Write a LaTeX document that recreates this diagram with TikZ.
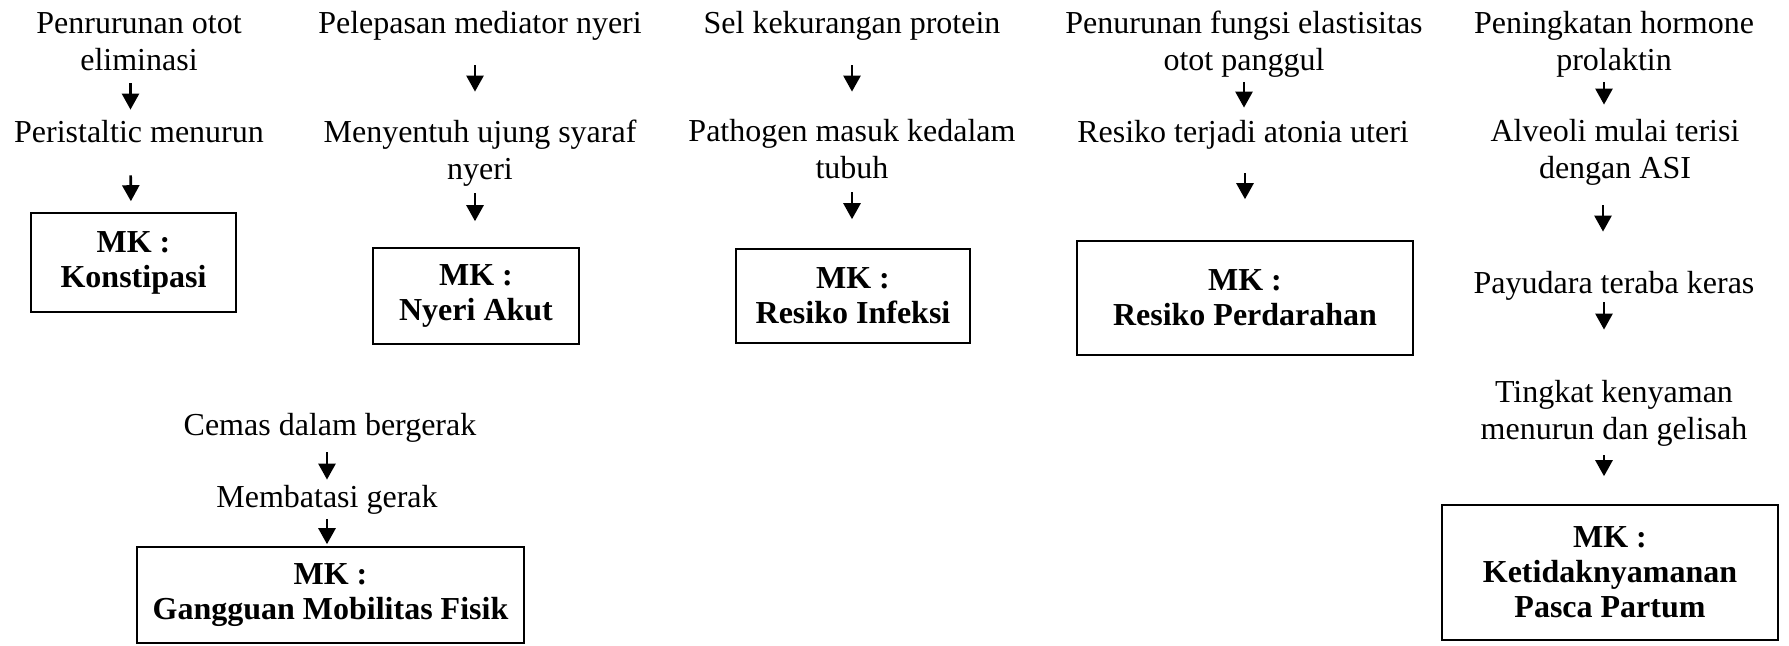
\documentclass[tikz,border=0pt]{standalone}
\usepackage{fontspec}
\setmainfont{Liberation Serif}
\usetikzlibrary{arrows.meta}
\begin{document}
\begin{tikzpicture}[x=0.5pt,y=-0.5pt,
  txt/.style={inner sep=0pt, align=center, font=\fontsize{16}{18.5}\selectfont},
  mk/.style={draw, line width=0.8pt, inner sep=0pt, align=center, font=\fontsize{16}{17.5}\selectfont\bfseries},
  arr/.style={line width=1.3pt, -{Triangle[width=8.5pt,length=8pt]}}]
\useasboundingbox (0,0) rectangle (1789,645);
% column 1
\node[txt] (t11) at (139,44.5) {\strut Penrurunan otot\\\strut eliminasi};
\node[txt] (t12) at (139,135) {\strut Peristaltic menurun};
\node[mk, minimum width=102.5pt, minimum height=49.5pt] (b1) at (133.5,262.5) {MK :\\Konstipasi};
\draw[arr, shorten <=0.75pt, shorten >=3.25pt] ([xshift=-4.25pt]t11.south) -- ([xshift=-4.25pt]t12.north);
\draw[arr, shorten <=10.75pt, shorten >=5.5pt] ([xshift=-4.25pt]t12.south) -- ([xshift=-1.25pt]b1.north);
% column 2
\node[txt] (t21) at (480,26) {\strut Pelepasan mediator nyeri};
\node[txt] (t22) at (480,154) {\strut Menyentuh ujung syaraf\\\strut nyeri};
\node[mk, minimum width=103pt, minimum height=48pt] (b2) at (476,296) {MK :\\Nyeri Akut};
\draw[arr, shorten <=10.25pt, shorten >=12.5pt] ([xshift=-2.5pt]t21.south) -- ([xshift=-2.5pt]t22.north);
\draw[arr, shorten <=1pt, shorten >=13pt] ([xshift=-2.5pt]t22.south) -- ([xshift=-0.5pt]b2.north);
% column 3
\node[txt] (t31) at (852,26) {\strut Sel kekurangan protein};
\node[txt] (t32) at (852,153) {\strut Pathogen masuk kedalam\\\strut tubuh};
\node[mk, minimum width=117pt, minimum height=47pt] (b3) at (853,296) {MK :\\Resiko Infeksi};
\draw[arr, shorten <=10.25pt, shorten >=12pt] (t31.south) -- (t32.north);
\draw[arr, shorten <=1pt, shorten >=14.5pt] (t32.south) -- ([xshift=-0.5pt]b3.north);
% column 4
\node[txt] (t41) at (1244,44.5) {\strut Penurunan fungsi elastisitas\\\strut otot panggul};
\node[txt] (t42) at (1243,135) {\strut Resiko terjadi atonia uteri};
\node[mk, minimum width=168pt, minimum height=57pt] (b4) at (1245,298) {MK :\\Resiko Perdarahan};
\draw[arr, shorten >=4.25pt] (t41.south) -- ([xshift=0.5pt]t42.north);
\draw[arr, shorten <=9.75pt, shorten >=20.5pt] ([xshift=1pt]t42.south) -- (b4.north);
% column 5
\node[txt] (t51) at (1614,44.5) {\strut Peningkatan hormone\\\strut prolaktin};
\node[txt] (t52) at (1615,153) {\strut Alveoli mulai terisi\\\strut dengan ASI};
\node[txt] (t53) at (1614,286) {\strut Payudara teraba keras};
\node[txt] (t54) at (1614,414) {\strut Tingkat kenyaman\\\strut menurun dan gelisah};
\node[mk, minimum width=168pt, minimum height=67.5pt] (b5) at (1610,572.5) {MK :\\Ketidaknyamanan\\Pasca Partum};
\draw[arr, shorten >=5.5pt] ([xshift=-5pt]t51.south) -- ([xshift=-5.5pt]t52.north);
\draw[arr, shorten <=7.5pt, shorten >=17.75pt] ([xshift=-6pt]t52.south) -- ([xshift=-5.5pt]t53.north);
\draw[arr, shorten <=-1.25pt, shorten >=23.5pt] ([xshift=-5pt]t53.south) -- ([xshift=-5pt]t54.north);
\draw[arr, shorten <=2pt, shorten >=14pt] ([xshift=-5pt]t54.south) -- ([xshift=-3pt]b5.north);
% bottom left
\node[txt] (t61) at (330,428) {\strut Cemas dalam bergerak};
\node[txt] (t62) at (327,500) {\strut Membatasi gerak};
\node[mk, minimum width=193.5pt, minimum height=48pt] (b6) at (330.5,595) {MK :\\Gangguan Mobilitas Fisik};
\draw[arr, shorten <=2.75pt, shorten >=0.75pt] ([xshift=-1.5pt]t61.south) -- (t62.north);
\draw[arr, shorten >=1pt] (t62.south) -- ([xshift=-1.75pt]b6.north);
\end{tikzpicture}
\end{document}
